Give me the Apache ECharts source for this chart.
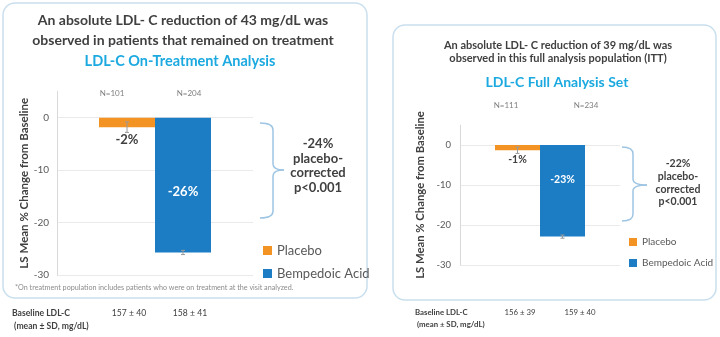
<!DOCTYPE html>
<html><head><meta charset="utf-8">
<script src="https://cdn.jsdelivr.net/npm/echarts@6/dist/echarts.min.js"></script>
<style>html,body{margin:0;padding:0;background:#fff}#c{width:720px;height:337px}</style>
</head><body><div id="c"></div>
<script>
// ---- data ----
const seriesNames = ['Placebo', 'Bempedoic Acid'];
const leftValues = [-1.8, -25.7];
const leftErrors = [1.0, 0.4];
const rightValues = [-1.3, -22.9];
const rightErrors = [0.8, 0.4];
const leftN = ['N=101', 'N=204'];
const rightN = ['N=111', 'N=234'];
const leftBaseline = ['157 ± 40', '158 ± 41'];
const rightBaseline = ['156 ± 39', '159 ± 40'];
const leftDiff = ['-24%', 'placebo-', 'corrected', 'p<0.001'];
const rightDiff = ['-22%', 'placebo-', 'corrected', 'p<0.001'];
const yMin = -30, yMax = 5, yInterval = 10;
const yAxisName = 'LS Mean % Change from Baseline';
const leftTitle = ['An absolute LDL- C reduction of 43 mg/dL was', 'observed in patients that remained on treatment'];
const leftSub = 'LDL-C On-Treatment Analysis';
const rightTitle = ['An absolute LDL- C reduction of 39 mg/dL was', 'observed in this full analysis population (ITT)'];
const rightSub = 'LDL-C Full Analysis Set';
const footnote = '*On treatment population includes patients who were on treatment at the visit analyzed.';
const baselineLabel = ['Baseline LDL-C', ' (mean ± SD, mg/dL)'];

// ---- style ----
const FONT = 'Lato, "Open Sans", sans-serif';
const ORANGE = '#F39323', BLUE = '#1C7CC4';
const DARK = '#404040', GRAY = '#595959', CYAN = '#1BA9E0', BORDER = '#C9DFEE', BRACE = '#9EC5E3';

const chart = echarts.init(document.getElementById('c'));

function yAxis(grid, fs, gap, nameFs, nameGap) {
  return {
    type: 'value', gridIndex: grid, min: yMin, max: yMax, interval: yInterval,
    name: yAxisName, nameLocation: 'middle', nameRotate: 90, nameGap: nameGap, nameMoveOverlap: false,
    nameTextStyle: { fontFamily: FONT, fontSize: nameFs, fontWeight: 'bold', color: DARK },
    axisLine: { show: true, lineStyle: { color: '#D9D9D9', width: 1 } },
    axisTick: { show: false },
    axisLabel: { showMaxLabel: false, fontFamily: FONT, fontSize: fs, color: GRAY, margin: gap },
    splitLine: { show: true, showMaxLine: false, lineStyle: { color: '#EAEAEA', width: 1 } }
  };
}
function errSeries(grid, values, errors, bw) {
  return {
    type: 'custom', xAxisIndex: grid, yAxisIndex: grid, z: 5, silent: true,
    data: values.map((v, i) => [0, v, errors[i], i]),
    encode: { x: 0, y: 1 },
    renderItem: function (params, api) {
      const v = api.value(1), e = api.value(2), i = api.value(3);
      const c = api.coord([0, v]);
      const x = c[0] + (i - 0.5) * bw;
      const t = api.coord([0, v + e])[1], b = api.coord([0, v - e])[1];
      const st = { stroke: '#9A9A9A', lineWidth: 1 };
      return { type: 'group', children: [
        { type: 'line', shape: { x1: x, y1: t, x2: x, y2: b }, style: st },
        { type: 'line', shape: { x1: x - 2, y1: t, x2: x + 2, y2: t }, style: st },
        { type: 'line', shape: { x1: x - 2, y1: b, x2: x + 2, y2: b }, style: st }
      ] };
    }
  };
}
function bars(grid, values, bw, fs, placeboDist, bempOffset) {
  return [
    { type: 'bar', name: seriesNames[0], xAxisIndex: grid, yAxisIndex: grid, data: [values[0]],
      barWidth: bw, barGap: '0%', itemStyle: { color: ORANGE },
      label: { show: true, position: 'bottom', distance: placeboDist, fontFamily: FONT, fontSize: fs, fontWeight: 'bold', color: DARK,
        formatter: p => Math.round(p.value) + '%' } },
    { type: 'bar', name: seriesNames[1], xAxisIndex: grid, yAxisIndex: grid, data: [values[1]],
      barWidth: bw, barGap: '0%', itemStyle: { color: BLUE },
      label: { show: true, position: 'inside', offset: bempOffset, fontFamily: FONT, fontSize: fs, fontWeight: 'bold', color: '#FFFFFF',
        formatter: p => Math.round(p.value) + '%' } }
  ];
}
function txt(x, y, s, fs, color, weight, align) {
  return { type: 'text', x: x, y: y, silent: true,
    style: { text: s, fontFamily: FONT, fontSize: fs, fill: color, fontWeight: weight || 'normal',
      align: align || 'center', verticalAlign: 'middle' } };
}
// curly brace: left ends at x0, spine at x1, tip at x2; top y0, tip y1, bottom y2
function brace(x0, x1, x2, y0, y1, y2) {
  const st = { fill: 'none', stroke: BRACE, lineWidth: 1.5 };
  const r = 7, k = 6;
  return [
    { type: 'bezierCurve', silent: true, shape: { x1: x0, y1: y0, cpx1: x1, cpy1: y0, x2: x1, y2: y0 + r }, style: st },
    { type: 'line', silent: true, shape: { x1: x1, y1: y0 + r, x2: x1, y2: y1 - k }, style: st },
    { type: 'bezierCurve', silent: true, shape: { x1: x1, y1: y1 - k, cpx1: x1, cpy1: y1, x2: x2, y2: y1 }, style: st },
    { type: 'bezierCurve', silent: true, shape: { x1: x2, y1: y1, cpx1: x1, cpy1: y1, x2: x1, y2: y1 + k }, style: st },
    { type: 'line', silent: true, shape: { x1: x1, y1: y1 + k, x2: x1, y2: y2 - r }, style: st },
    { type: 'bezierCurve', silent: true, shape: { x1: x1, y1: y2 - r, cpx1: x1, cpy1: y2, x2: x0, y2: y2 }, style: st }
  ];
}

const graphics = [
  { type: 'rect', shape: { x: 3, y: 3, width: 364, height: 295, r: 12 }, style: { fill: 'none', stroke: BORDER, lineWidth: 1.5 }, silent: true },
  { type: 'rect', shape: { x: 393, y: 25, width: 323, height: 275, r: 12 }, style: { fill: 'none', stroke: BORDER, lineWidth: 1.5 }, silent: true },
  txt(183, 20, leftTitle[0], 14, DARK, 'bold'),
  txt(183, 40, leftTitle[1], 14, DARK, 'bold'),
  txt(180, 61, leftSub, 14.5, CYAN, 'bold'),
  txt(558, 45, rightTitle[0], 11, DARK, 'bold'),
  txt(558, 58, rightTitle[1], 11, DARK, 'bold'),
  txt(557, 82, rightSub, 14, CYAN, 'bold'),
  txt(112, 93, leftN[0], 8, '#7F7F7F'),
  txt(189, 93, leftN[1], 8, '#7F7F7F'),
  txt(506, 105, rightN[0], 8, '#7F7F7F'),
  txt(586, 105, rightN[1], 8, '#7F7F7F'),
  ...brace(260, 273, 284, 123, 170, 218),
  ...brace(622, 633, 647, 147, 185, 221),
  txt(15, 288, footnote, 7.2, '#8C8C8C', 'normal', 'left'),
  txt(12, 313, baselineLabel[0], 8.6, DARK, 'bold', 'left'),
  txt(12, 326, baselineLabel[1], 8.6, DARK, 'bold', 'left'),
  txt(129, 313, leftBaseline[0], 8.6, DARK, 'normal'),
  txt(190, 313, leftBaseline[1], 8.6, DARK, 'normal'),
  txt(415, 312, baselineLabel[0], 7.8, DARK, 'bold', 'left'),
  txt(415, 324, baselineLabel[1], 7.8, DARK, 'bold', 'left'),
  txt(520, 312, rightBaseline[0], 7.8, DARK, 'normal'),
  txt(580, 312, rightBaseline[1], 7.8, DARK, 'normal')
];
leftDiff.forEach((s, i) => graphics.push(txt(318, 144 + i * 14.5, s, 13, DARK, 'bold')));
rightDiff.forEach((s, i) => graphics.push(txt(678, 164 + i * 12.6, s, 10.5, DARK, 'bold')));

chart.setOption({
  animation: false,
  grid: [
    { left: 57, top: 91.5, right: 467, bottom: 62 },
    { left: 460, top: 125, right: 100, bottom: 72 }
  ],
  xAxis: [
    { type: 'category', gridIndex: 0, data: [''], show: false },
    { type: 'category', gridIndex: 1, data: [''], show: false }
  ],
  yAxis: [yAxis(0, 10, 8, 11.5, 27), yAxis(1, 9.5, 9, 11.3, 34)],
  legend: [
    { data: seriesNames, orient: 'vertical', left: 258, top: 239, icon: 'rect', itemWidth: 9, itemHeight: 9, itemGap: 10,
      textStyle: { fontFamily: FONT, fontSize: 13, color: GRAY }, selectedMode: false },
    { data: seriesNames, orient: 'vertical', left: 624, top: 232, icon: 'rect', itemWidth: 8, itemHeight: 8, itemGap: 11,
      textStyle: { fontFamily: FONT, fontSize: 10, color: GRAY }, selectedMode: false }
  ],
  series: [
    ...bars(0, leftValues, 56, 13, 6, [0, 7]),
    errSeries(0, leftValues, leftErrors, 56),
    ...bars(1, rightValues, 45, 10.5, 4, [0, -11]),
    errSeries(1, rightValues, rightErrors, 45)
  ],
  graphic: graphics
});
</script></body></html>
